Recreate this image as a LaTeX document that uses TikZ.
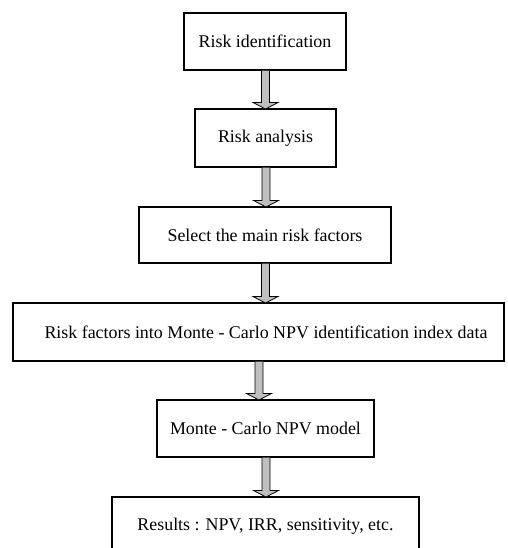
\documentclass[tikz,border=0pt]{standalone}
\usepackage{fontspec}
\setmainfont{Liberation Serif}
\usetikzlibrary{calc}
\begin{document}
\begin{tikzpicture}[x=1pt,y=-1pt,
  box/.style={draw=black,line width=1.4pt,fill=white,inner sep=0pt,outer sep=0pt,
    font=\fontsize{17.9}{20}\selectfont,text=black},
  garrow/.style={fill=gray!50,draw=black,line width=0.8pt,line join=miter}]
\useasboundingbox[fill=white] (0,0) rectangle (507,548);
\node[box,minimum width=162pt,minimum height=57pt] (b1) at (265,41.5) {Risk identification};
\node[box,minimum width=141pt,minimum height=58pt] (b2) at (265.5,138) {Risk analysis};
\node[box,minimum width=252pt,minimum height=56pt] (b3) at (265,235) {Select the main risk factors};
\node[box,minimum width=491pt,minimum height=58pt] (b4) at (258.5,332) {\hspace*{15pt}Risk factors into Monte - Carlo NPV identification index data};
\node[box,minimum width=217pt,minimum height=57pt] (b5) at (265.5,428.5) {Monte - Carlo NPV model};
\node[box,minimum width=307pt,minimum height=58pt] (b6) at (265.5,526) {Results : NPV, IRR, sensitivity, etc.};
\foreach \a/\b in {b1/b2,b2/b3,b3/b4,b4/b5,b5/b6}{
  \coordinate (s) at ($(\a.south)+(0.5,0.7)$);
  \coordinate (t) at (s |- \b.north);
  \path[garrow] ($(s)+(-4,0)$) -- ($(t)+(-4,-6.5)$) -- ($(t)+(-12.5,-6.5)$) -- (t)
     -- ($(t)+(12.5,-6.5)$) -- ($(t)+(4,-6.5)$) -- ($(s)+(4,0)$);
}
\end{tikzpicture}
\end{document}
